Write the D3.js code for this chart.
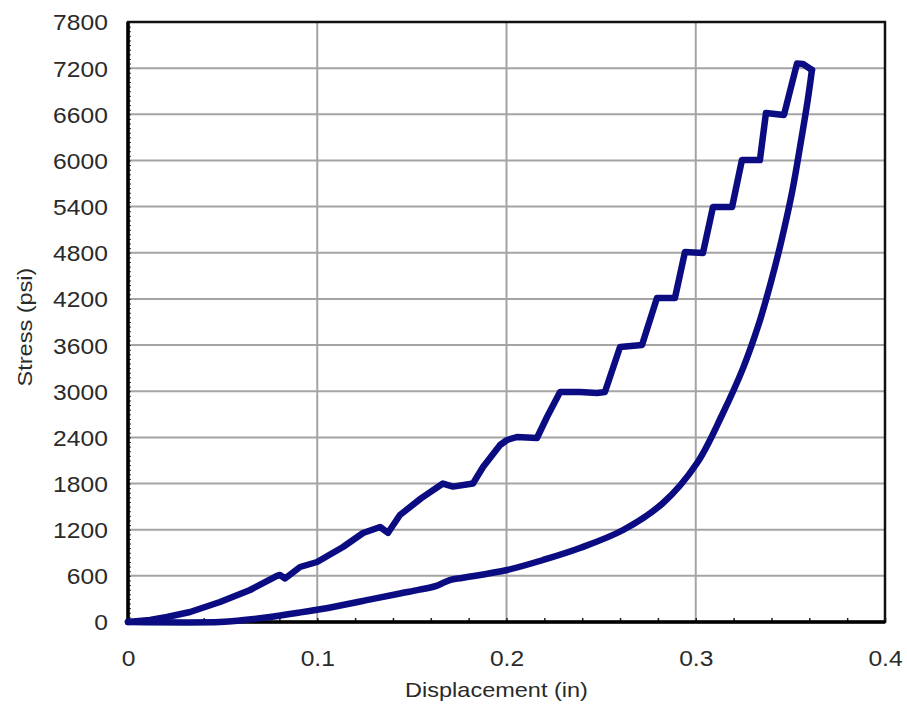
<!DOCTYPE html>
<html>
<head>
<meta charset="utf-8">
<script src="https://cdn.jsdelivr.net/npm/d3@7"></script>
<style>
  body { margin: 0; background: #fff; }
  text { font-family: "Liberation Sans", Arial, sans-serif; fill: #2a2a2a; }
</style>
</head>
<body>
<script>
// loading curve (stepped) and unloading curve
var loadX = [0, 0.0116, 0.0206, 0.0328, 0.0486, 0.0645, 0.0787, 0.0803, 0.0830, 0.0909, 0.0999, 0.1136, 0.1242,
  0.1332, 0.1374, 0.1437, 0.1550, 0.1664, 0.1717, 0.1823, 0.1876, 0.1966, 0.2003, 0.2055, 0.2161, 0.2214,
  0.2283, 0.2388, 0.2478, 0.2520, 0.2600, 0.2716, 0.2795, 0.2890, 0.2943, 0.3038, 0.3091, 0.3192, 0.3244,
  0.3339, 0.3371, 0.3466, 0.3535, 0.3567, 0.3614];
var loadY = [0, 26, 65, 130, 260, 416, 600, 611, 565, 715, 780, 975, 1157,
  1235, 1160, 1391, 1610, 1800, 1760, 1800, 2015, 2301, 2366, 2405, 2392, 2665,
  2990, 2990, 2977, 2990, 3575, 3601, 4212, 4212, 4810, 4797, 5395, 5395, 6006,
  6006, 6617, 6591, 7260, 7254, 7176];

var unloadX = [0.3614, 0.3592, 0.3556, 0.3510, 0.3452, 0.3395, 0.3330, 0.3250, 0.3144, 0.3007, 0.2827,
  0.2616, 0.2388, 0.2193, 0.2003, 0.1770, 0.1700, 0.1630, 0.1540, 0.1437, 0.1295, 0.1083, 0.0900, 0.0750,
  0.0600, 0.0486, 0];
var unloadY = [7176, 6790, 6250, 5600, 4950, 4400, 3850, 3300, 2717, 2067, 1547,
  1196, 962, 806, 676, 575, 545, 470, 420, 370, 300, 195, 120, 65,
  22, 0, 0];

var xTicks = [0, 0.1, 0.2, 0.3, 0.4];
var yTicks = [0, 600, 1200, 1800, 2400, 3000, 3600, 4200, 4800, 5400, 6000, 6600, 7200, 7800];

var width = 907, height = 707;
var margin = {top: 22, right: 22, bottom: 85, left: 128};
var w = width - margin.left - margin.right,
    h = height - margin.top - margin.bottom;

var svg = d3.select("body").append("svg")
    .attr("width", width)
    .attr("height", height);

var g = svg.append("g")
    .attr("transform", "translate(" + margin.left + "," + margin.top + ")");

var x = d3.scaleLinear().domain([0, 0.4]).range([0, w]);
var y = d3.scaleLinear().domain([0, 7800]).range([h, 0]);

// grid
g.selectAll(".hgrid")
    .data(yTicks.slice(1, -1))
  .enter().append("line")
    .attr("x1", 0).attr("x2", w)
    .attr("y1", function(d) { return y(d); })
    .attr("y2", function(d) { return y(d); })
    .style("stroke", "#a4a4a4").style("stroke-width", 2);

g.selectAll(".vgrid")
    .data(xTicks.slice(1, -1))
  .enter().append("line")
    .attr("y1", 0).attr("y2", h)
    .attr("x1", function(d) { return x(d); })
    .attr("x2", function(d) { return x(d); })
    .style("stroke", "#a4a4a4").style("stroke-width", 2);

// minor ticks, inside
g.append("g")
    .call(d3.axisBottom(x).tickValues(d3.range(0, 0.4001, 0.02)).tickSize(-4).tickFormat(""))
    .attr("transform", "translate(0," + h + ")")
    .call(function(a) { a.select(".domain").remove(); a.selectAll("line").style("stroke", "#222").style("stroke-width", 1.5); });

g.append("g")
    .call(d3.axisLeft(y).tickValues(d3.range(0, 7801, 60)).tickSize(-3).tickFormat(""))
    .call(function(a) { a.select(".domain").remove(); a.selectAll("line").style("stroke", "#333").style("stroke-width", 1); });

// tick labels
var xAxis = g.append("g")
    .attr("transform", "translate(0," + h + ")")
    .call(d3.axisBottom(x).tickValues(xTicks).tickSize(0).tickPadding(0).tickFormat(function(d) { return d === 0 ? "0" : d3.format(".1f")(d); }));
xAxis.select(".domain").remove();
xAxis.selectAll("text")
    .attr("y", 44).attr("dy", 0)
    .style("font-size", "22px")
    .attr("transform", "scale(1.12,1)");

var yAxis = g.append("g")
    .call(d3.axisLeft(y).tickValues(yTicks).tickSize(0).tickPadding(0).tickFormat(d3.format("d")));
yAxis.select(".domain").remove();
yAxis.selectAll("text")
    .attr("x", -18).attr("dy", "0.36em")
    .style("font-size", "22px")
    .attr("transform", "scale(1.12,1)");

// frame
g.append("rect")
    .attr("width", w).attr("height", h)
    .style("fill", "none").style("stroke", "#111").style("stroke-width", 2.5);
g.append("line").attr("x1", 0).attr("x2", 0).attr("y1", 0).attr("y2", h)
    .style("stroke", "#000").style("stroke-width", 3.5);
g.append("line").attr("x1", 0).attr("x2", w).attr("y1", h).attr("y2", h)
    .style("stroke", "#000").style("stroke-width", 3.5);

// curves
var line = d3.line()
    .x(function(d) { return x(d[0]); })
    .y(function(d) { return y(d[1]); });

var loadPts = loadX.map(function(v, i) { return [v, loadY[i]]; });
var unloadPts = unloadX.map(function(v, i) { return [v, unloadY[i]]; });

g.append("path")
    .attr("d", line(loadPts))
    .style("fill", "none")
    .style("stroke", "#0c0c82")
    .style("stroke-width", 6.5)
    .style("stroke-linejoin", "round")
    .style("stroke-linecap", "round");

g.append("path")
    .attr("d", line.curve(d3.curveCatmullRom)(unloadPts))
    .style("fill", "none")
    .style("stroke", "#0c0c82")
    .style("stroke-width", 6.5)
    .style("stroke-linejoin", "round")
    .style("stroke-linecap", "round");

// axis titles
svg.append("text")
    .attr("transform", "translate(" + (margin.left + w / 2 - 10) + ",697) scale(1.12,1)")
    .attr("text-anchor", "middle")
    .style("font-size", "21px")
    .text("Displacement (in)");

svg.append("text")
    .attr("transform", "translate(32," + (margin.top + h / 2 + 5) + ") rotate(-90) scale(1.12,1)")
    .attr("text-anchor", "middle")
    .style("font-size", "21px")
    .text("Stress (psi)");
</script>
</body>
</html>
